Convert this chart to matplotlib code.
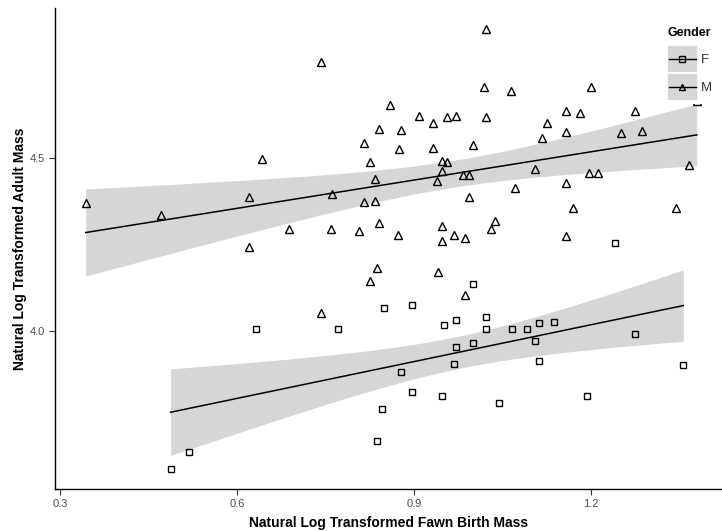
import numpy as np
import matplotlib
matplotlib.use("Agg")
from matplotlib import pyplot as plt
from matplotlib.lines import Line2D
from matplotlib.patches import Rectangle

# ln fawn birth mass / ln adult mass
f_birth = [0.487, 0.518, 0.632, 0.771, 0.849, 0.845, 0.837, 0.878, 0.896, 0.896,
           0.947, 0.951, 0.971, 0.968, 0.971, 1.000, 1.000, 1.022, 1.022, 1.044,
           1.066, 1.092, 1.105, 1.112, 1.112, 1.137, 1.194, 1.241, 1.275, 1.357]
f_adult = [3.600, 3.649, 4.005, 4.005, 4.066, 3.774, 3.681, 3.881, 4.074, 3.823,
           3.811, 4.016, 4.031, 3.904, 3.953, 4.135, 3.964, 4.040, 4.005, 3.791,
           4.005, 4.005, 3.970, 4.022, 3.912, 4.025, 3.811, 4.253, 3.990, 3.901]

m_birth = [0.343, 0.470, 0.620, 0.642, 0.620, 0.688, 0.742, 0.759, 0.761, 0.806,
           0.815, 0.815, 0.825, 0.834, 0.834, 0.840, 0.840, 0.859, 0.873, 0.874,
           0.878, 0.908, 0.932, 0.932, 0.939, 0.947, 0.947, 0.947, 0.947, 0.956,
           0.956, 0.968, 0.971, 0.983, 0.986, 0.993, 0.993, 1.000, 1.019, 1.022,
           1.022, 1.031, 1.037, 1.065, 1.071, 1.105, 1.117, 1.126, 1.158, 1.158,
           1.158, 1.158, 1.170, 1.182, 1.197, 1.200, 1.212, 1.251, 1.275, 1.287,
           1.345, 1.367, 0.837, 0.825, 0.742, 0.941, 0.986, 1.380]
m_adult = [4.369, 4.334, 4.386, 4.496, 4.242, 4.294, 4.777, 4.294, 4.395, 4.288,
           4.542, 4.372, 4.488, 4.438, 4.375, 4.583, 4.311, 4.652, 4.277, 4.525,
           4.580, 4.621, 4.600, 4.528, 4.433, 4.490, 4.462, 4.303, 4.259, 4.618,
           4.488, 4.277, 4.621, 4.450, 4.268, 4.450, 4.386, 4.537, 4.704, 4.872,
           4.618, 4.294, 4.317, 4.693, 4.412, 4.467, 4.557, 4.600, 4.635, 4.574,
           4.427, 4.274, 4.355, 4.629, 4.456, 4.704, 4.456, 4.571, 4.635, 4.577,
           4.355, 4.479, 4.181, 4.144, 4.051, 4.170, 4.103, 4.664]

groups = ['F', 'M']
markers = ['s', '^']

x_ticks = [0.3, 0.6, 0.9, 1.2]
y_ticks = [4.0, 4.5]

BAND = '#d6d6d6'

plt.rcParams['font.family'] = ['Liberation Sans', 'DejaVu Sans']


def smooth(x, y, n=80, t=2.0):
    # lm fit with 95% band, like geom_smooth(method="lm")
    x = np.asarray(x)
    y = np.asarray(y)
    b, a = np.polyfit(x, y, 1)
    res = y - (a + b * x)
    s = np.sqrt(np.sum(res ** 2) / (len(x) - 2))
    xs = np.linspace(x.min(), x.max(), n)
    se = s * np.sqrt(1.0 / len(x) + (xs - x.mean()) ** 2 / np.sum((x - x.mean()) ** 2))
    fit = a + b * xs
    return xs, fit, fit - t * se, fit + t * se


class KeyHandler:
    # ggplot style key: grey box, line across, marker in the middle
    def __init__(self, marker):
        self.marker = marker

    def legend_artist(self, legend, orig_handle, fontsize, handlebox):
        x0, y0 = -handlebox.xdescent, -handlebox.ydescent
        w, h = handlebox.width, handlebox.height
        tr = handlebox.get_transform()
        rect = Rectangle((x0, y0), w, h, facecolor=BAND, edgecolor='white',
                         lw=1.2, transform=tr)
        line = Line2D([x0 + 1, x0 + w - 1], [y0 + h / 2] * 2, color='black',
                      lw=1.0, transform=tr)
        mk = Line2D([x0 + w / 2], [y0 + h / 2], marker=self.marker, ms=4.6,
                    mfc='none', mec='black', mew=1.0, ls='none', transform=tr)
        handlebox.add_artist(rect)
        handlebox.add_artist(line)
        handlebox.add_artist(mk)
        return rect


def main():
    fig = plt.figure(figsize=(7.22, 5.31), dpi=100)
    ax = fig.add_axes([55 / 722, 1 - 489 / 531, 667 / 722, 481 / 531])

    for bx, by in [(f_birth, f_adult), (m_birth, m_adult)]:
        xs, fit, lo, hi = smooth(bx, by)
        ax.fill_between(xs, lo, hi, color=BAND, lw=0, zorder=1)

    for bx, by in [(f_birth, f_adult), (m_birth, m_adult)]:
        xs, fit, lo, hi = smooth(bx, by)
        ax.plot(xs, fit, color='black', lw=1.1, zorder=2)

    ax.plot(f_birth, f_adult, 's', ms=4.6, mfc='none', mec='black', mew=1.0, zorder=3)
    ax.plot(m_birth, m_adult, '^', ms=5.2, mfc='none', mec='black', mew=1.0, zorder=3)

    ax.set_xlim(0.2909, 1.4228)
    ax.set_ylim(3.5425, 4.933)
    ax.set_xticks(x_ticks)
    ax.set_xticklabels([str(v) for v in x_ticks])
    ax.set_yticks(y_ticks)
    ax.set_yticklabels([str(v) for v in y_ticks])
    ax.tick_params(length=4, width=0.8, color='#333333', labelcolor='#4d4d4d',
                   labelsize=8, pad=3)
    ax.spines['top'].set_visible(False)
    ax.spines['right'].set_visible(False)
    for side in ['left', 'bottom']:
        ax.spines[side].set_linewidth(1.0)
        ax.spines[side].set_color('black')

    ax.set_xlabel('Natural Log Transformed Fawn Birth Mass', fontsize=10,
                  fontweight='bold', labelpad=5)
    ax.set_ylabel('Natural Log Transformed Adult Mass', fontsize=10,
                  fontweight='bold', labelpad=2.5)

    handles = [Line2D([], [], label=g) for g in groups]
    hmap = {h: KeyHandler(mk) for h, mk in zip(handles, markers)}
    leg = fig.legend(handles, groups, title='Gender', loc='upper left',
                     bbox_to_anchor=(664 / 722, 1 - 24 / 531), frameon=True,
                     facecolor='white', edgecolor='none', framealpha=1.0,
                     handler_map=hmap,
                     handlelength=2.3, handleheight=2.9, handletextpad=0.25,
                     labelspacing=0.0, borderpad=0.25, borderaxespad=0.0,
                     fontsize=9.5, fancybox=False)
    leg.get_title().set_fontweight('bold')
    leg.get_title().set_fontsize(9)
    leg._legend_box.align = 'left'
    leg._legend_box.sep = 4
    for t in leg.get_texts():
        t.set_color('#333333')

    fig.savefig('out.png', dpi=100)


if __name__ == "__main__":
    main()
